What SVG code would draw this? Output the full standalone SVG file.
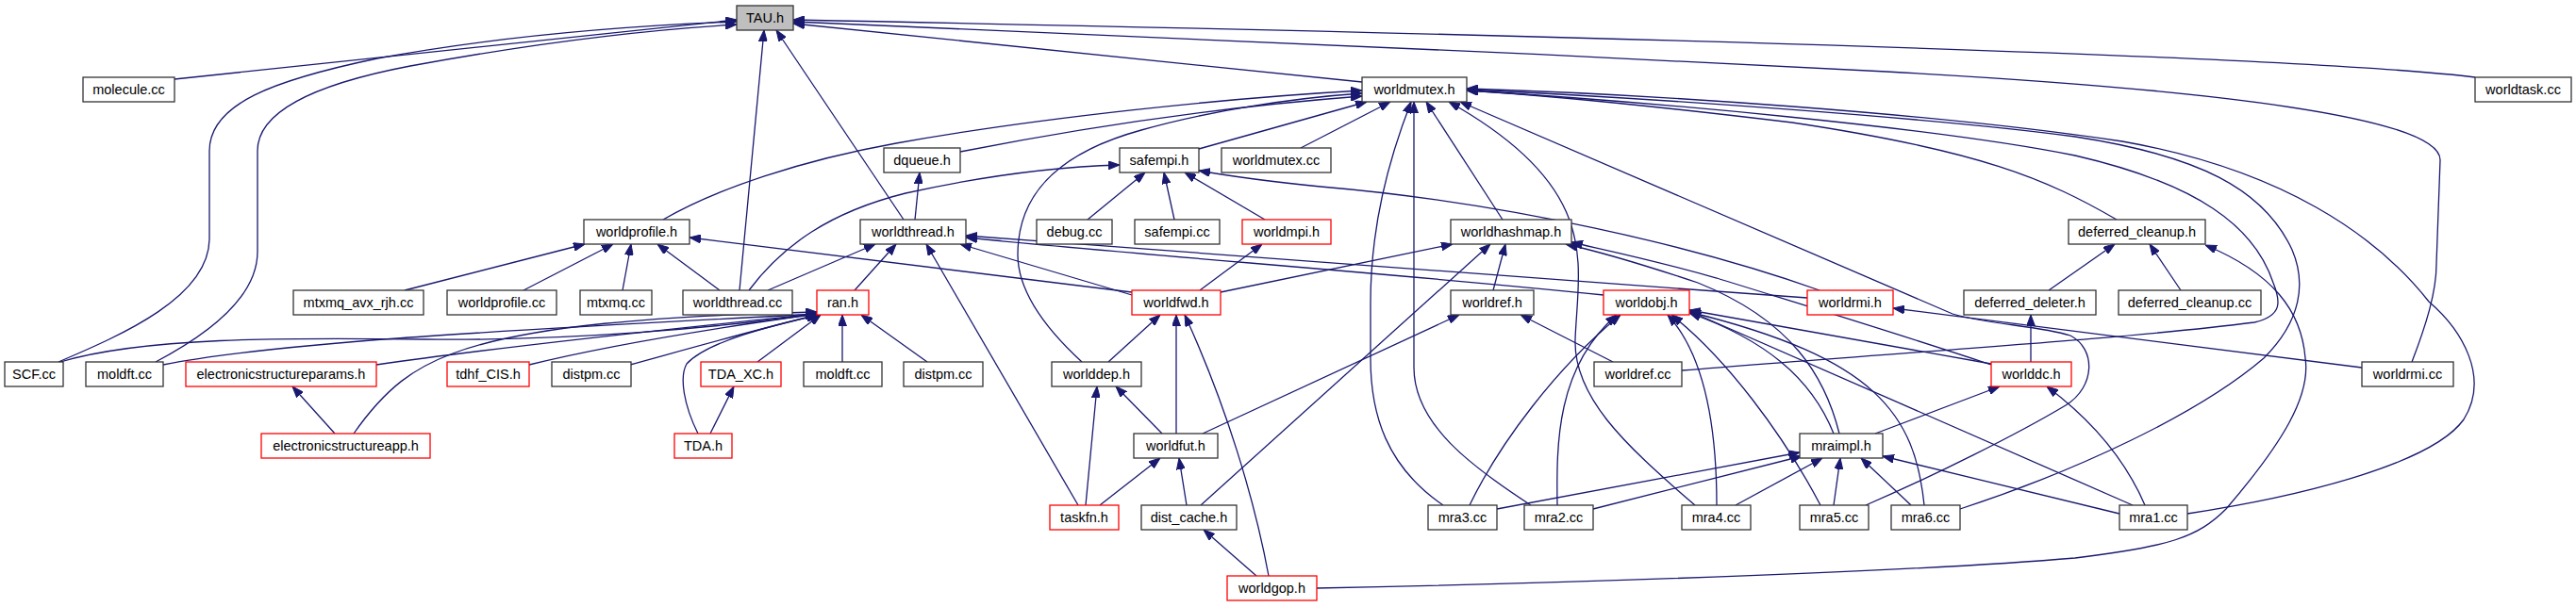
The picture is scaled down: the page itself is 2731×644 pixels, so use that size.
<svg xmlns="http://www.w3.org/2000/svg" width="2731" height="644" viewBox="0 0 2731 644">
<style>
.n{fill:#fff;stroke:#333;stroke-width:1.3}
.r{fill:#fff;stroke:#ff0000;stroke-width:1.3}
.g{fill:#bfbfbf;stroke:#333;stroke-width:1.3}
.t{font-family:"Liberation Sans",Arial,sans-serif;font-size:14.5px;text-anchor:middle;fill:#000}
.e{fill:none;stroke:#191970;stroke-width:1.3;marker-end:url(#ah)}
</style>
<defs>
<marker id="ah" markerWidth="12" markerHeight="9" refX="12" refY="4.5" orient="auto" markerUnits="userSpaceOnUse">
<path d="M0,0 L12,4.5 L0,9 z" fill="#191970" stroke="#191970" stroke-width="1"/>
</marker>
</defs>
<rect width="2731" height="644" fill="#fff"/>
<g id="edges">
<path class="e" d="M185,84 L781,21"/>
<path class="e" d="M62,384 C130,355 222,315 222,253 L222,160 C222,110 290,85 400,62 C520,40 650,28 781,23"/>
<path class="e" d="M165,384 C220,355 273,315 273,267 L273,160 C273,120 330,90 435,70 C560,47 680,32 781,26"/>
<path class="e" d="M784,308 L810,32"/>
<path class="e" d="M958,233 L823,32"/>
<path class="e" d="M1444,87 L841,25"/>
<path class="e" d="M2624,82 C2450,60 1700,38 841,21"/>
<path class="e" d="M2557,384 C2572,345 2583,310 2583,280 L2587,170 C2588,125 2350,95 2000,76 C1600,55 1100,33 841,23"/>
<path class="e" d="M703,233 C760,200 850,170 950,152 C1100,125 1300,104 1444,96"/>
<path class="e" d="M1018,161 C1150,135 1300,113 1444,102"/>
<path class="e" d="M1147,384 C1110,350 1079,310 1079,270 C1079,200 1130,160 1210,138 C1280,118 1370,104 1444,99"/>
<path class="e" d="M1271,158 L1449,108"/>
<path class="e" d="M1379,157 L1474,108"/>
<path class="e" d="M1530,536 C1470,495 1453,440 1453,380 L1453,322 C1453,240 1472,170 1496,108"/>
<path class="e" d="M1623,536 C1560,495 1499,450 1499,390 L1499,108"/>
<path class="e" d="M1593,233 L1512,108"/>
<path class="e" d="M1797,536 C1720,470 1668,420 1670,360 C1673,280 1700,200 1536,108"/>
<path class="e" d="M1978,536 C2050,505 2140,460 2190,430 C2222,410 2222,370 2195,356 C2160,345 2110,345 2070,333 L1548,108"/>
<path class="e" d="M2244,233 C2170,190 2100,160 1900,130 C1750,112 1620,100 1555,96"/>
<path class="e" d="M1783,393 C2000,375 2250,360 2390,342 C2420,335 2418,320 2410,300 C2390,240 2330,195 2200,165 C2050,135 1750,108 1555,96"/>
<path class="e" d="M2078,540 C2200,500 2330,440 2400,380 C2440,340 2445,300 2430,265 C2400,200 2330,165 2200,145 C2050,125 1750,104 1555,95"/>
<path class="e" d="M2319,545 C2450,525 2580,490 2612,445 C2640,400 2610,350 2575,320 C2520,250 2420,180 2250,150 C2050,120 1750,100 1555,94"/>
<path class="e" d="M1929,308 C1800,262 1600,215 1400,198 C1350,193 1310,188 1271,181"/>
<path class="e" d="M794,308 C830,260 880,225 960,205 C1050,185 1120,177 1187,175"/>
<path class="e" d="M1153,233 L1214,183"/>
<path class="e" d="M1245,233 L1234,183"/>
<path class="e" d="M1341,233 L1256,183"/>
<path class="e" d="M970,233 L975,183"/>
<path class="e" d="M814,308 L928,259"/>
<path class="e" d="M906,308 L950,259"/>
<path class="e" d="M1143,536 L982,259"/>
<path class="e" d="M1200,313 L1018,259"/>
<path class="e" d="M1700,313 C1500,292 1200,270 1024,252"/>
<path class="e" d="M1916,316 C1600,293 1250,268 1024,250"/>
<path class="e" d="M429,308 L620,259"/>
<path class="e" d="M555,308 L650,259"/>
<path class="e" d="M660,308 L669,259"/>
<path class="e" d="M763,308 L697,259"/>
<path class="e" d="M1200,310 L731,252"/>
<path class="e" d="M64,384 C150,358 300,358 450,360 C600,362 760,348 866,333"/>
<path class="e" d="M173,387 C300,362 550,350 866,333"/>
<path class="e" d="M399,387 C550,365 750,345 866,333"/>
<path class="e" d="M561,387 C650,365 780,345 866,333"/>
<path class="e" d="M668,387 C730,370 800,350 867,334"/>
<path class="e" d="M375,460 C410,410 440,390 480,375 C560,345 700,335 866,331"/>
<path class="e" d="M740,460 C725,430 720,400 728,386 C750,362 820,345 868,334"/>
<path class="e" d="M803,384 L870,334"/>
<path class="e" d="M893,384 L893,334"/>
<path class="e" d="M983,384 L913,334"/>
<path class="e" d="M753,460 L778,410"/>
<path class="e" d="M355,460 L310,410"/>
<path class="e" d="M1175,384 L1230,334"/>
<path class="e" d="M1247,460 L1247,334"/>
<path class="e" d="M1345,611 C1330,530 1300,430 1256,334"/>
<path class="e" d="M1272,308 L1338,259"/>
<path class="e" d="M1294,310 L1540,259"/>
<path class="e" d="M1583,308 L1596,259"/>
<path class="e" d="M1273,536 L1580,259"/>
<path class="e" d="M1950,460 C1935,400 1900,340 1800,300 C1740,280 1700,268 1660,259"/>
<path class="e" d="M2111,387 C2000,350 1900,320 1820,295 C1750,275 1700,265 1666,257"/>
<path class="e" d="M1710,384 L1612,334"/>
<path class="e" d="M1275,460 L1547,334"/>
<path class="e" d="M1558,536 C1590,470 1650,390 1718,334"/>
<path class="e" d="M1651,536 C1650,470 1650,390 1714,334"/>
<path class="e" d="M1820,536 C1820,460 1810,380 1768,334"/>
<path class="e" d="M1930,536 C1890,460 1830,380 1772,334"/>
<path class="e" d="M1944,460 C1920,400 1870,360 1791,332"/>
<path class="e" d="M2040,536 C2030,440 1990,380 1791,331"/>
<path class="e" d="M2261,536 L1791,330"/>
<path class="e" d="M2111,386 L1791,329"/>
<path class="e" d="M2504,390 L2007,327"/>
<path class="e" d="M2172,308 L2242,259"/>
<path class="e" d="M2312,308 L2279,259"/>
<path class="e" d="M1396,624 C1700,618 2050,605 2200,592 C2300,580 2330,570 2360,540 C2420,470 2450,420 2444,380 C2440,330 2410,290 2338,260"/>
<path class="e" d="M1988,460 L2120,410"/>
<path class="e" d="M2274,536 C2250,480 2210,440 2170,410"/>
<path class="e" d="M2153,384 L2153,334"/>
<path class="e" d="M1587,540 L1908,480"/>
<path class="e" d="M1689,540 L1910,484"/>
<path class="e" d="M1840,536 L1932,486"/>
<path class="e" d="M1944,536 L1951,486"/>
<path class="e" d="M2026,536 L1973,486"/>
<path class="e" d="M2247,545 L1996,484"/>
<path class="e" d="M1151,536 L1163,410"/>
<path class="e" d="M1232,460 L1183,410"/>
<path class="e" d="M1166,536 L1230,486"/>
<path class="e" d="M1258,536 L1250,486"/>
<path class="e" d="M1332,611 L1276,562"/>
</g>
<g id="n_TAU_h"><rect class="g" x="781" y="6" width="60" height="26"/><text class="t" x="811" y="24">TAU.h</text></g>
<g id="n_molecule_cc"><rect class="n" x="88" y="82" width="97" height="26"/><text class="t" x="136.5" y="100">molecule.cc</text></g>
<g id="n_worldmutex_h"><rect class="n" x="1444" y="82" width="111" height="26"/><text class="t" x="1499.5" y="100">worldmutex.h</text></g>
<g id="n_worldtask_cc"><rect class="n" x="2624" y="82" width="102" height="26"/><text class="t" x="2675" y="100">worldtask.cc</text></g>
<g id="n_dqueue_h"><rect class="n" x="937" y="157" width="81" height="26"/><text class="t" x="977.5" y="175">dqueue.h</text></g>
<g id="n_safempi_h"><rect class="n" x="1187" y="157" width="84" height="26"/><text class="t" x="1229" y="175">safempi.h</text></g>
<g id="n_worldmutex_cc"><rect class="n" x="1295" y="157" width="116" height="26"/><text class="t" x="1353" y="175">worldmutex.cc</text></g>
<g id="n_worldprofile_h"><rect class="n" x="619" y="233" width="112" height="26"/><text class="t" x="675" y="251">worldprofile.h</text></g>
<g id="n_worldthread_h"><rect class="n" x="912" y="233" width="112" height="26"/><text class="t" x="968" y="251">worldthread.h</text></g>
<g id="n_debug_cc"><rect class="n" x="1099" y="233" width="80" height="26"/><text class="t" x="1139" y="251">debug.cc</text></g>
<g id="n_safempi_cc"><rect class="n" x="1203" y="233" width="90" height="26"/><text class="t" x="1248" y="251">safempi.cc</text></g>
<g id="n_worldmpi_h"><rect class="r" x="1317" y="233" width="94" height="26"/><text class="t" x="1364" y="251">worldmpi.h</text></g>
<g id="n_worldhashmap_h"><rect class="n" x="1538" y="233" width="128" height="26"/><text class="t" x="1602" y="251">worldhashmap.h</text></g>
<g id="n_deferred_cleanup_h"><rect class="n" x="2193" y="233" width="145" height="26"/><text class="t" x="2265.5" y="251">deferred_cleanup.h</text></g>
<g id="n_mtxmq_avx_rjh_cc"><rect class="n" x="311" y="308" width="138" height="26"/><text class="t" x="380" y="326">mtxmq_avx_rjh.cc</text></g>
<g id="n_worldprofile_cc"><rect class="n" x="474" y="308" width="116" height="26"/><text class="t" x="532" y="326">worldprofile.cc</text></g>
<g id="n_mtxmq_cc"><rect class="n" x="615" y="308" width="76" height="26"/><text class="t" x="653" y="326">mtxmq.cc</text></g>
<g id="n_worldthread_cc"><rect class="n" x="724" y="308" width="116" height="26"/><text class="t" x="782" y="326">worldthread.cc</text></g>
<g id="n_ran_h"><rect class="r" x="866" y="308" width="55" height="26"/><text class="t" x="893.5" y="326">ran.h</text></g>
<g id="n_worldfwd_h"><rect class="r" x="1200" y="308" width="94" height="26"/><text class="t" x="1247" y="326">worldfwd.h</text></g>
<g id="n_worldref_h"><rect class="n" x="1538" y="308" width="88" height="26"/><text class="t" x="1582" y="326">worldref.h</text></g>
<g id="n_worldobj_h"><rect class="r" x="1700" y="308" width="91" height="26"/><text class="t" x="1745.5" y="326">worldobj.h</text></g>
<g id="n_worldrmi_h"><rect class="r" x="1916" y="308" width="91" height="26"/><text class="t" x="1961.5" y="326">worldrmi.h</text></g>
<g id="n_deferred_deleter_h"><rect class="n" x="2082" y="308" width="140" height="26"/><text class="t" x="2152" y="326">deferred_deleter.h</text></g>
<g id="n_deferred_cleanup_cc"><rect class="n" x="2246" y="308" width="151" height="26"/><text class="t" x="2321.5" y="326">deferred_cleanup.cc</text></g>
<g id="n_SCF_cc"><rect class="n" x="5" y="384" width="62" height="26"/><text class="t" x="36" y="402">SCF.cc</text></g>
<g id="n_moldft_cc_1"><rect class="n" x="91" y="384" width="82" height="26"/><text class="t" x="132" y="402">moldft.cc</text></g>
<g id="n_electronicstructureparams_h"><rect class="r" x="197" y="384" width="202" height="26"/><text class="t" x="298" y="402">electronicstructureparams.h</text></g>
<g id="n_tdhf_CIS_h"><rect class="r" x="474" y="384" width="87" height="26"/><text class="t" x="517.5" y="402">tdhf_CIS.h</text></g>
<g id="n_distpm_cc_1"><rect class="n" x="585" y="384" width="84" height="26"/><text class="t" x="627" y="402">distpm.cc</text></g>
<g id="n_TDA_XC_h"><rect class="r" x="743" y="384" width="85" height="26"/><text class="t" x="785.5" y="402">TDA_XC.h</text></g>
<g id="n_moldft_cc_2"><rect class="n" x="852" y="384" width="83" height="26"/><text class="t" x="893.5" y="402">moldft.cc</text></g>
<g id="n_distpm_cc_2"><rect class="n" x="958" y="384" width="84" height="26"/><text class="t" x="1000" y="402">distpm.cc</text></g>
<g id="n_worlddep_h"><rect class="n" x="1115" y="384" width="95" height="26"/><text class="t" x="1162.5" y="402">worlddep.h</text></g>
<g id="n_worldref_cc"><rect class="n" x="1690" y="384" width="93" height="26"/><text class="t" x="1736.5" y="402">worldref.cc</text></g>
<g id="n_worldddc_h"><rect class="r" x="2111" y="384" width="85" height="26"/><text class="t" x="2153.5" y="402">worlddc.h</text></g>
<g id="n_worldrmi_cc"><rect class="n" x="2504" y="384" width="97" height="26"/><text class="t" x="2552.5" y="402">worldrmi.cc</text></g>
<g id="n_electronicstructureapp_h"><rect class="r" x="277" y="460" width="179" height="26"/><text class="t" x="366.5" y="478">electronicstructureapp.h</text></g>
<g id="n_TDA_h"><rect class="r" x="715" y="460" width="61" height="26"/><text class="t" x="745.5" y="478">TDA.h</text></g>
<g id="n_worldfut_h"><rect class="n" x="1202" y="460" width="89" height="26"/><text class="t" x="1246.5" y="478">worldfut.h</text></g>
<g id="n_mraimpl_h"><rect class="n" x="1908" y="460" width="88" height="26"/><text class="t" x="1952" y="478">mraimpl.h</text></g>
<g id="n_taskfn_h"><rect class="r" x="1113" y="536" width="73" height="26"/><text class="t" x="1149.5" y="554">taskfn.h</text></g>
<g id="n_dist_cache_h"><rect class="n" x="1210" y="536" width="101" height="26"/><text class="t" x="1260.5" y="554">dist_cache.h</text></g>
<g id="n_mra3_cc"><rect class="n" x="1514" y="536" width="73" height="26"/><text class="t" x="1550.5" y="554">mra3.cc</text></g>
<g id="n_mra2_cc"><rect class="n" x="1616" y="536" width="73" height="26"/><text class="t" x="1652.5" y="554">mra2.cc</text></g>
<g id="n_mra4_cc"><rect class="n" x="1783" y="536" width="73" height="26"/><text class="t" x="1819.5" y="554">mra4.cc</text></g>
<g id="n_mra5_cc"><rect class="n" x="1908" y="536" width="73" height="26"/><text class="t" x="1944.5" y="554">mra5.cc</text></g>
<g id="n_mra6_cc"><rect class="n" x="2005" y="536" width="73" height="26"/><text class="t" x="2041.5" y="554">mra6.cc</text></g>
<g id="n_mra1_cc"><rect class="n" x="2247" y="536" width="72" height="26"/><text class="t" x="2283" y="554">mra1.cc</text></g>
<g id="n_worldgop_h"><rect class="r" x="1301" y="611" width="95" height="26"/><text class="t" x="1348.5" y="629">worldgop.h</text></g>
</svg>
